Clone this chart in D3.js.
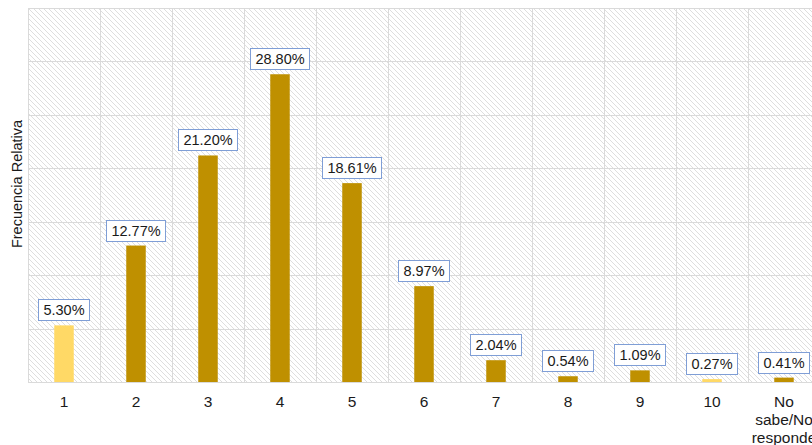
<!DOCTYPE html>
<html>
<head>
<meta charset="utf-8">
<script src="https://cdn.jsdelivr.net/npm/d3@7"></script>
<style>
html,body{margin:0;padding:0;background:#fff;overflow:hidden;}
svg{display:block;font-family:"Liberation Sans",Arial,Helvetica,sans-serif;}
</style>
</head>
<body>
<svg id="chart" width="812" height="445"></svg>
<script>
const categories = ["1","2","3","4","5","6","7","8","9","10","No sabe/No responde"];
const values = [0.0530,0.1277,0.2120,0.2880,0.1861,0.0897,0.0204,0.0054,0.0109,0.0027,0.0041];
const labels = ["5.30%","12.77%","21.20%","28.80%","18.61%","8.97%","2.04%","0.54%","1.09%","0.27%","0.41%"];
const highlight = [true,false,false,false,false,false,false,false,false,true,false];
const yTicks = [0,0.05,0.10,0.15,0.20,0.25,0.30,0.35];
const yTitle = "Frecuencia Relativa";

(function(){
const svg = d3.select("#chart");
const mL = 28, mR = 820, mT = 8, mB = 382;

const x = d3.scaleBand().domain(categories).range([mL, mR]).padding(0);
const y = d3.scaleLinear().domain([0, 0.35]).range([mB, mT]);

const defs = svg.append("defs");
const pat = defs.append("pattern").attr("id","hatch").attr("patternUnits","userSpaceOnUse")
  .attr("width",5).attr("height",5);
pat.append("rect").attr("width",5).attr("height",5).attr("fill","#fff");
pat.append("path").attr("d","M-1,-1L6,6M-1,4L1,6M4,-1L6,1").attr("stroke","#dedede").attr("stroke-width",1);

svg.append("rect").attr("x",mL).attr("y",mT).attr("width",mR-mL).attr("height",mB-mT)
  .attr("fill","url(#hatch)");

svg.append("g").selectAll("line").data(yTicks).join("line")
  .attr("x1",mL).attr("x2",mR)
  .attr("y1",d=>Math.round(y(d))+0.5).attr("y2",d=>Math.round(y(d))+0.5)
  .attr("stroke","#dadada").attr("stroke-width",1);

const bounds = categories.map(c=>x(c)).concat([mR]);
svg.append("g").selectAll("line").data(bounds).join("line")
  .attr("x1",d=>Math.round(d)+0.5).attr("x2",d=>Math.round(d)+0.5)
  .attr("y1",mT).attr("y2",mB)
  .attr("stroke","#dadada").attr("stroke-width",1);

const bw = 19.5;
svg.append("g").selectAll("rect").data(values).join("rect")
  .attr("x",(d,i)=>x(categories[i])+x.bandwidth()/2-bw/2)
  .attr("y",d=>y(d))
  .attr("width",bw)
  .attr("height",d=>mB-y(d))
  .attr("fill",(d,i)=>highlight[i]?"#FFD966":"#BF9000");

const lg = svg.append("g");
values.forEach((v,i)=>{
  const cx = x(categories[i])+x.bandwidth()/2;
  const by = y(v) - 4;
  const g = lg.append("g");
  const rect = g.append("rect");
  const t = g.append("text").attr("x",cx).attr("y",by-6).attr("text-anchor","middle")
    .attr("font-size",14.5).attr("fill","#1a1a1a").text(labels[i]);
  const w = t.node().getComputedTextLength()+10;
  rect.attr("x",Math.round(cx-w/2)+0.5).attr("y",Math.round(by-22)+0.5).attr("width",Math.round(w)).attr("height",21)
    .attr("fill","#fff").attr("stroke","#7F9ED6").attr("stroke-width",1);
});

const ax = svg.append("g").attr("transform",`translate(0,${mB})`)
  .call(d3.axisBottom(x).tickSize(0).tickPadding(0));
ax.select(".domain").remove();
ax.selectAll("text").each(function(d){
  const t = d3.select(this);
  t.text(null).attr("font-size",15.5).attr("fill","#1a1a1a").attr("font-family","Liberation Sans, Arial, sans-serif").attr("dy",null).attr("y",25);
  const lines = d.indexOf(" ")>=0 ? ["No","sabe/No","responde"] : [d];
  lines.forEach((l,k)=>t.append("tspan").attr("x",0).attr("dy",k===0?0:18).text(l));
});

svg.append("text").attr("transform","translate(22,184) rotate(-90)").attr("text-anchor","middle")
  .attr("font-size",14.5).attr("fill","#1a1a1a").text(yTitle);
})();
</script>
</body>
</html>
